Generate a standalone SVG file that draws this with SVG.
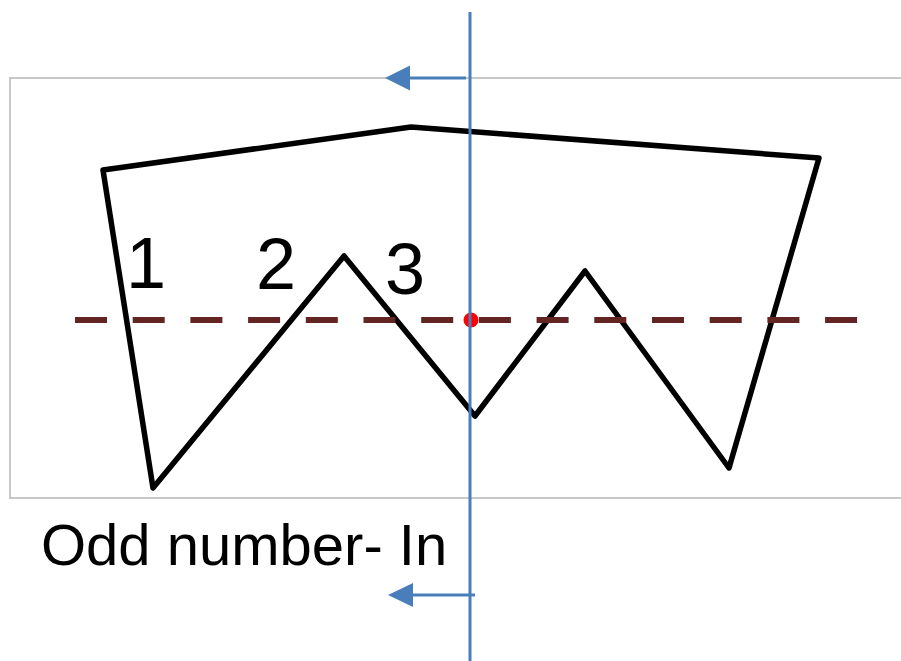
<svg xmlns="http://www.w3.org/2000/svg" width="901" height="661" viewBox="0 0 901 661">
<style>
.lbl{font-family:"Liberation Sans",Arial,sans-serif;fill:#000}
.arr{stroke:#4a7ebb;stroke-width:3;fill:none}
.head{fill:#4a7ebb}
</style>
<rect width="901" height="661" fill="#fff"/>
<g id="frame">
<rect x="10" y="78" width="900" height="420" fill="none" stroke="#c8c8c8" stroke-width="2"/>
</g>
<g id="shape">
<polygon points="103,170 411,127 819,158 729,468 585,271 475,416 344,256 153,488" fill="none" stroke="#000" stroke-width="5.5" stroke-linejoin="round"/>
</g>
<g id="centerline">
<line x1="75" y1="320" x2="860" y2="320" stroke="#632523" stroke-width="6" stroke-dasharray="32 25.7"/>
<circle cx="471" cy="320" r="7.5" fill="#ff0000"/>
</g>
<g id="connectors">
<line x1="470" y1="12" x2="470" y2="661" class="arr"/>
<line x1="466" y1="78" x2="405" y2="78" class="arr"/>
<polygon points="385,78 410,65.5 410,90.5" class="head"/>
<line x1="475" y1="595" x2="408" y2="595" class="arr"/>
<polygon points="388,595 413,583 413,607" class="head"/>
</g>
<g id="labels">
<text x="126" y="288" font-size="72" class="lbl">1</text>
<text x="256" y="289" font-size="72" class="lbl">2</text>
<text x="385" y="294" font-size="72" class="lbl">3</text>
<text x="41" y="565" font-size="58" class="lbl">Odd number- In</text>
</g>
</svg>
